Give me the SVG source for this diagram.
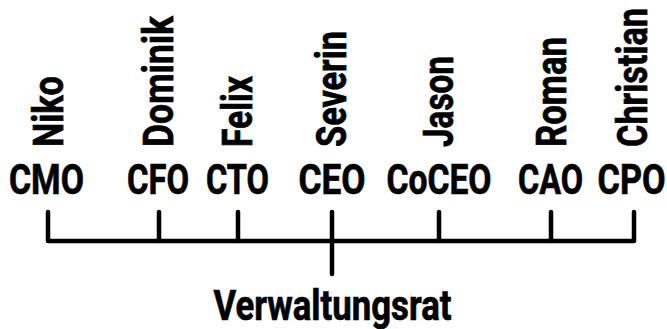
<svg xmlns="http://www.w3.org/2000/svg" width="667" height="329" viewBox="0 0 667 329">
  <style>
    .role { font-family: Roboto, "Liberation Sans", sans-serif; font-weight: 700; font-size: 42px; fill: #000; stroke: #000; stroke-width: 0.7; text-anchor: middle; }
    .name { font-family: Roboto, "Liberation Sans", sans-serif; font-weight: 700; font-size: 42px; fill: #000; stroke: #000; stroke-width: 0.7; text-anchor: start; }
    .wire { fill: none; stroke: #000; stroke-width: 4.5; stroke-linecap: round; stroke-linejoin: round; }
  </style>
  <rect width="667" height="329" fill="#fff"/>

  <!-- org chart connectors -->
  <g id="connectors">
    <path class="wire" d="M48,212 V241 H634 V212"/>
    <path class="wire" d="M159,212 V241"/>
    <path class="wire" d="M238,212 V241"/>
    <path class="wire" d="M332,212 V274"/>
    <path class="wire" d="M439,212 V241"/>
    <path class="wire" d="M551,212 V241"/>
  </g>

  <g id="cmo">
    <text class="name" transform="translate(63,147) rotate(-90)" textLength="71" lengthAdjust="spacingAndGlyphs">Niko</text>
    <text class="role" x="46.5" y="194" textLength="75" lengthAdjust="spacingAndGlyphs">CMO</text>
  </g>
  <g id="cfo">
    <text class="name" transform="translate(173,147) rotate(-90)" textLength="131" lengthAdjust="spacingAndGlyphs">Dominik</text>
    <text class="role" x="158" y="194" textLength="62" lengthAdjust="spacingAndGlyphs">CFO</text>
  </g>
  <g id="cto">
    <text class="name" transform="translate(252,147) rotate(-90)" textLength="71" lengthAdjust="spacingAndGlyphs">Felix</text>
    <text class="role" x="237.5" y="194" textLength="63" lengthAdjust="spacingAndGlyphs">CTO</text>
  </g>
  <g id="ceo">
    <text class="name" transform="translate(346,147) rotate(-90)" textLength="116" lengthAdjust="spacingAndGlyphs">Severin</text>
    <text class="role" x="332" y="194" textLength="67" lengthAdjust="spacingAndGlyphs">CEO</text>
  </g>
  <g id="coceo">
    <text class="name" transform="translate(453,147) rotate(-90)" textLength="91" lengthAdjust="spacingAndGlyphs">Jason</text>
    <text class="role" x="439" y="194" textLength="105" lengthAdjust="spacingAndGlyphs">CoCEO</text>
  </g>
  <g id="cao">
    <text class="name" transform="translate(566,147) rotate(-90)" textLength="110" lengthAdjust="spacingAndGlyphs">Roman</text>
    <text class="role" x="550.5" y="194" textLength="65" lengthAdjust="spacingAndGlyphs">CAO</text>
  </g>
  <g id="cpo">
    <text class="name" transform="translate(647,147) rotate(-90)" textLength="139" lengthAdjust="spacingAndGlyphs">Christian</text>
    <text class="role" x="631.5" y="194" textLength="68" lengthAdjust="spacingAndGlyphs">CPO</text>
  </g>

  <g id="verwaltungsrat">
    <text class="role" x="332.5" y="320" textLength="238" lengthAdjust="spacingAndGlyphs">Verwaltungsrat</text>
  </g>
</svg>
